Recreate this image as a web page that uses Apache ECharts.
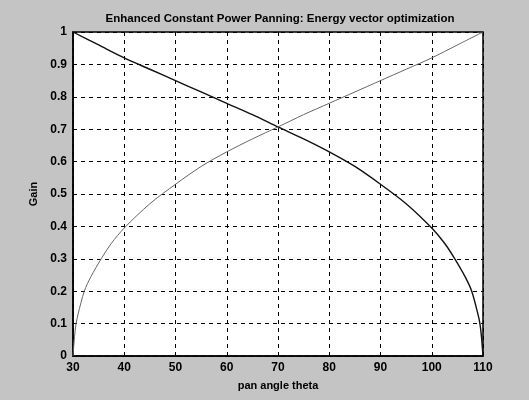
<!DOCTYPE html>
<html>
<head>
<meta charset="utf-8">
<script src="https://cdn.jsdelivr.net/npm/echarts@6/dist/echarts.min.js"></script>
<style>
  html, body { margin: 0; padding: 0; background: #c6c6c6; }
  #chart { width: 529px; height: 400px; }
</style>
</head>
<body>
<div id="chart"></div>
<script>
// values
const thetaUp = [30, 30.3, 30.6, 31, 32.2, 33.5, 35.5, 37.5, 40, 45, 50, 55, 60, 65, 70, 75, 80, 85, 90, 95, 100, 105, 110];
const gainUp = [0, 0.06, 0.1, 0.13, 0.2, 0.245, 0.3, 0.348, 0.395, 0.47, 0.53, 0.585, 0.63, 0.67, 0.707, 0.745, 0.78, 0.815, 0.85, 0.885, 0.92, 0.96, 1];
const thetaDown = [30, 35, 40, 45, 50, 55, 60, 65, 70, 75, 80, 85, 90, 95, 100, 102.5, 104.5, 106.5, 107.8, 109, 109.4, 109.7, 110];
const gainDown = [1, 0.96, 0.92, 0.885, 0.85, 0.815, 0.78, 0.745, 0.707, 0.67, 0.63, 0.585, 0.53, 0.47, 0.395, 0.348, 0.3, 0.245, 0.2, 0.13, 0.1, 0.06, 0];
const xTicks = [30, 40, 50, 60, 70, 80, 90, 100, 110];
const yTicks = [0, 0.1, 0.2, 0.3, 0.4, 0.5, 0.6, 0.7, 0.8, 0.9, 1];

const chart = echarts.init(document.getElementById('chart'));
const font = 'Liberation Sans, Arial, sans-serif';
const dashed = { show: true, lineStyle: { color: '#000', type: [4, 4], width: 1 } };

chart.setOption({
  animation: false,
  backgroundColor: '#c4c4c4',
  title: {
    text: 'Enhanced Constant Power Panning: Energy vector optimization',
    left: 275, top: 8, textAlign: 'center',
    textStyle: { fontFamily: font, fontSize: 11.5, fontWeight: 'bold', color: '#000' }
  },
  grid: {
    left: 73, right: 46, top: 32, bottom: 44,
    show: true, backgroundColor: '#fff', borderColor: '#000', borderWidth: 1.5
  },
  xAxis: {
    type: 'value', min: xTicks[0], max: xTicks[xTicks.length - 1], interval: 10,
    name: 'pan angle theta', nameLocation: 'middle', nameGap: 24,
    nameTextStyle: { fontFamily: font, fontSize: 11, fontWeight: 'bold', color: '#000' },
    axisLine: { lineStyle: { color: '#000', width: 1.5 } },
    axisTick: { inside: true, length: 4, lineStyle: { color: '#000' } },
    axisLabel: { fontFamily: font, fontSize: 12, fontWeight: 'bold', color: '#000', margin: 6 },
    splitLine: dashed
  },
  yAxis: {
    type: 'value', min: yTicks[0], max: yTicks[yTicks.length - 1], interval: 0.1,
    name: 'Gain', nameLocation: 'middle', nameGap: 30,
    nameTextStyle: { fontFamily: font, fontSize: 11, fontWeight: 'bold', color: '#000' },
    axisLine: { show: true, lineStyle: { color: '#000', width: 1.5 } },
    axisTick: { show: true, inside: true, length: 4, lineStyle: { color: '#000' } },
    axisLabel: { fontFamily: font, fontSize: 12, fontWeight: 'bold', color: '#000', margin: 6 },
    splitLine: dashed
  },
  series: [
    {
      type: 'line', showSymbol: false, smooth: 0.3,
      data: thetaDown.map((t, i) => [t, gainDown[i]]),
      lineStyle: { color: '#111', width: 1.4 }
    },
    {
      type: 'line', showSymbol: false, smooth: 0.3,
      data: thetaUp.map((t, i) => [t, gainUp[i]]),
      lineStyle: { color: '#666', width: 1 }
    }
  ]
});
</script>
</body>
</html>
